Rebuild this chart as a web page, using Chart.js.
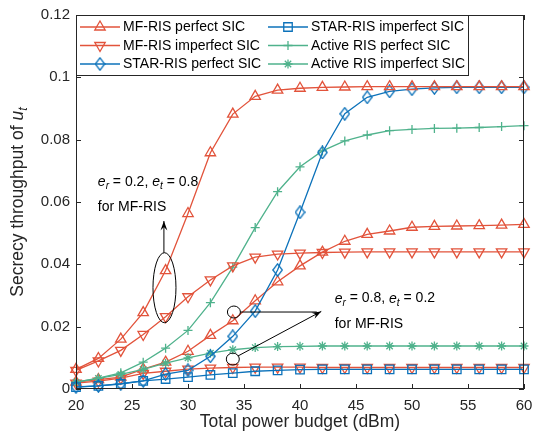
<!DOCTYPE html>
<html>
<head>
<meta charset="utf-8">
<script src="https://cdn.jsdelivr.net/npm/chart.js@4"></script>
<style>
  html, body { margin: 0; padding: 0; background: #fff; }
</style>
</head>
<body>
<canvas id="chart" width="533" height="436"></canvas>
<script>
// ---- data ----
const powerBudget = [20, 22, 24, 26, 28, 30, 32, 34, 36, 38, 40, 42, 44, 46, 48, 50, 52, 54, 56, 58, 60];

// MF-RIS, e_r = 0.2, e_t = 0.8
const mfPerfectHigh   = [0.0063, 0.0098, 0.0160, 0.0245, 0.0380, 0.0563, 0.0758, 0.0882, 0.0939, 0.0959, 0.0965, 0.0968, 0.0969, 0.0970, 0.0970, 0.0970, 0.0970, 0.0970, 0.0970, 0.0970, 0.0970];
const mfImperfectHigh = [0.0060, 0.0090, 0.0124, 0.0175, 0.0232, 0.0296, 0.0350, 0.0395, 0.0423, 0.0433, 0.0436, 0.0438, 0.0439, 0.0440, 0.0440, 0.0440, 0.0440, 0.0440, 0.0440, 0.0440, 0.0440];
// MF-RIS, e_r = 0.8, e_t = 0.2
const mfPerfectLow    = [0.0022, 0.0030, 0.0038, 0.0064, 0.0086, 0.0121, 0.0172, 0.0219, 0.0283, 0.0344, 0.0395, 0.0439, 0.0474, 0.0496, 0.0507, 0.0519, 0.0522, 0.0523, 0.0524, 0.0526, 0.0528];
const mfImperfectLow  = [0.0019, 0.0025, 0.0035, 0.0050, 0.0057, 0.0064, 0.0067, 0.0069, 0.0070, 0.0070, 0.0070, 0.0069, 0.0069, 0.0069, 0.0069, 0.0069, 0.0069, 0.0069, 0.0069, 0.0069, 0.0069];
const starPerfect     = [0.0007, 0.0010, 0.0017, 0.0026, 0.0048, 0.0060, 0.0105, 0.0169, 0.0250, 0.0382, 0.0567, 0.0759, 0.0883, 0.0936, 0.0955, 0.0962, 0.0966, 0.0968, 0.0968, 0.0968, 0.0968];
const starImperfect   = [0.0006, 0.0010, 0.0016, 0.0026, 0.0032, 0.0038, 0.0045, 0.0051, 0.0057, 0.0060, 0.0062, 0.0063, 0.0063, 0.0063, 0.0063, 0.0063, 0.0063, 0.0063, 0.0063, 0.0063, 0.0063];
const activePerfect   = [0.0022, 0.0035, 0.0052, 0.0086, 0.0131, 0.0188, 0.0277, 0.0391, 0.0518, 0.0633, 0.0713, 0.0764, 0.0796, 0.0815, 0.0829, 0.0833, 0.0836, 0.0837, 0.0839, 0.0842, 0.0845];
const activeImperfect = [0.0022, 0.0034, 0.0047, 0.0063, 0.0083, 0.0100, 0.0115, 0.0126, 0.0133, 0.0136, 0.0137, 0.0138, 0.0138, 0.0138, 0.0138, 0.0138, 0.0138, 0.0138, 0.0138, 0.0138, 0.0138];

const xTicks = [20, 25, 30, 35, 40, 45, 50, 55, 60];
const yTicks = [0, 0.02, 0.04, 0.06, 0.08, 0.1, 0.12];

const RED = '#E2533B';
const BLUE = '#0C72BA';
const GREEN = '#4FB28C';
const INK = '#262626';
const FONT = "Arial, 'Liberation Sans', sans-serif";

// MATLAB-like diamond (a bit taller than wide)
function diamondMarker(color) {
    const c = document.createElement('canvas');
    c.width = 11; c.height = 14;
    const g = c.getContext('2d');
    g.strokeStyle = color;
    g.lineWidth = 1.3;
    g.beginPath();
    g.moveTo(5.5, 0.8); g.lineTo(10.2, 7); g.lineTo(5.5, 13.2); g.lineTo(0.8, 7);
    g.closePath();
    g.stroke();
    return c;
}

function series(label, values, color, style, rotation, radius, inLegend) {
    return {
        label: label,
        data: values.map((v, i) => ({ x: powerBudget[i], y: v })),
        borderColor: color,
        backgroundColor: color,
        borderWidth: 1.3,
        pointStyle: style,
        pointRotation: rotation,
        pointRadius: radius,
        pointBorderWidth: 1.3,
        pointBorderColor: color,
        pointBackgroundColor: 'rgba(0,0,0,0)',
        tension: 0,
        clip: false,
        inLegend: inLegend
    };
}

const datasets = [
    series('MF-RIS perfect SIC', mfPerfectHigh, RED, 'triangle', 0, 6, true),
    series('MF-RIS imperfect SIC', mfImperfectHigh, RED, 'triangle', 180, 6, true),
    series('STAR-RIS perfect SIC', starPerfect, BLUE, diamondMarker(BLUE), 0, 6, true),
    series('STAR-RIS imperfect SIC', starImperfect, BLUE, 'rect', 0, 6, true),
    series('Active RIS perfect SIC', activePerfect, GREEN, 'cross', 0, 4.5, true),
    series('Active RIS imperfect SIC', activeImperfect, GREEN, 'star', 0, 4.5, true),
    series('MF-RIS perfect SIC (0.8/0.2)', mfPerfectLow, RED, 'triangle', 0, 6, false),
    series('MF-RIS imperfect SIC (0.8/0.2)', mfImperfectLow, RED, 'triangle', 180, 6, false)
];

// text with italic/subscript pieces
function drawRich(ctx, parts, x, y, size) {
    let cx = x;
    parts.forEach(([txt, kind]) => {
        const fs = kind === 'sub' ? size * 0.72 : size;
        ctx.font = (kind === 'n' ? '' : 'italic ') + fs + 'px ' + FONT;
        ctx.fillText(txt, cx, kind === 'sub' ? y + size * 0.32 : y);
        cx += ctx.measureText(txt).width;
    });
}
function richWidth(ctx, parts, size) {
    let w = 0;
    parts.forEach(([txt, kind]) => {
        const fs = kind === 'sub' ? size * 0.72 : size;
        ctx.font = (kind === 'n' ? '' : 'italic ') + fs + 'px ' + FONT;
        w += ctx.measureText(txt).width;
    });
    return w;
}

function arrow(ctx, x1, y1, x2, y2) {
    const ang = Math.atan2(y2 - y1, x2 - x1);
    ctx.beginPath();
    ctx.moveTo(x1, y1);
    ctx.lineTo(x2, y2);
    ctx.stroke();
    ctx.beginPath();
    ctx.moveTo(x2, y2);
    ctx.lineTo(x2 - 10 * Math.cos(ang - 0.35), y2 - 10 * Math.sin(ang - 0.35));
    ctx.lineTo(x2 - 6 * Math.cos(ang), y2 - 6 * Math.sin(ang));
    ctx.lineTo(x2 - 10 * Math.cos(ang + 0.35), y2 - 10 * Math.sin(ang + 0.35));
    ctx.closePath();
    ctx.fill();
}

const decorPlugin = {
    id: 'decor',
    afterDatasetsDraw(chart) {
        const ctx = chart.ctx;
        const a = chart.chartArea;
        const xs = chart.scales.x, ys = chart.scales.y;
        ctx.save();

        // axes box and inward ticks
        ctx.strokeStyle = INK;
        ctx.lineWidth = 1;
        ctx.strokeRect(a.left + 0.5, a.top + 0.5, a.right - a.left - 1, a.bottom - a.top - 1);
        ctx.beginPath();
        xTicks.forEach(t => {
            const px = Math.round(xs.getPixelForValue(t)) + 0.5;
            ctx.moveTo(px, a.bottom); ctx.lineTo(px, a.bottom - 5);
            ctx.moveTo(px, a.top); ctx.lineTo(px, a.top + 5);
        });
        yTicks.forEach(t => {
            const py = Math.round(ys.getPixelForValue(t)) + 0.5;
            ctx.moveTo(a.left, py); ctx.lineTo(a.left + 5, py);
            ctx.moveTo(a.right, py); ctx.lineTo(a.right - 5, py);
        });
        ctx.stroke();

        // annotations
        ctx.strokeStyle = '#000';
        ctx.fillStyle = '#000';
        ctx.lineWidth = 1;
        const X = v => xs.getPixelForValue(v), Y = v => ys.getPixelForValue(v);

        ctx.beginPath();
        ctx.ellipse(X(27.9), Y(0.0325), 11.5, 35, 0, 0, Math.PI * 2);
        ctx.stroke();
        arrow(ctx, X(27.85), Y(0.0437), X(27.85), Y(0.0539));

        ctx.beginPath();
        ctx.ellipse(X(34.1), Y(0.0247), 6.5, 6, 0, 0, Math.PI * 2);
        ctx.stroke();
        ctx.beginPath();
        ctx.ellipse(X(34.0), Y(0.0096), 6.5, 6, 0, 0, Math.PI * 2);
        ctx.stroke();
        ctx.beginPath();
        ctx.moveTo(X(34.1) + 6.5, Y(0.0247));
        ctx.lineTo(X(41.5), Y(0.0247));
        ctx.stroke();
        arrow(ctx, X(34.0) + 5, Y(0.0096) - 3, X(41.9), Y(0.0249));

        ctx.textBaseline = 'middle';
        ctx.textAlign = 'left';
        const lbl1 = [['e', 'i'], ['r', 'sub'], [' = 0.2, ', 'n'], ['e', 'i'], ['t', 'sub'], [' = 0.8', 'n']];
        const lbl2 = [['e', 'i'], ['r', 'sub'], [' = 0.8, ', 'n'], ['e', 'i'], ['t', 'sub'], [' = 0.2', 'n']];
        drawRich(ctx, lbl1, X(21.95), Y(0.0664), 14);
        drawRich(ctx, [['for MF-RIS', 'n']], X(21.95), Y(0.0584), 14);
        drawRich(ctx, lbl2, X(43.1), Y(0.0290), 14);
        drawRich(ctx, [['for MF-RIS', 'n']], X(43.1), Y(0.0207), 14);

        // legend box, two columns
        const lx = a.left, ly = a.top, lw = 392, lh = 60;
        ctx.fillStyle = '#fff';
        ctx.fillRect(lx, ly, lw, lh);
        ctx.strokeStyle = INK;
        ctx.strokeRect(lx + 0.5, ly + 0.5, lw, lh);
        const shown = chart.data.datasets.filter(d => d.inLegend);
        shown.forEach((d, i) => {
            const col = Math.floor(i / 3), row = i % 3;
            const sx = lx + 4 + col * 188;
            const sy = ly + 12 + row * 18.5;
            ctx.strokeStyle = d.borderColor;
            ctx.fillStyle = 'rgba(0,0,0,0)';
            ctx.lineWidth = 1.3;
            ctx.beginPath();
            ctx.moveTo(sx, sy); ctx.lineTo(sx + 40, sy);
            ctx.stroke();
            Chart.helpers.drawPoint(ctx, {
                pointStyle: d.pointStyle, rotation: d.pointRotation,
                radius: d.pointRadius, borderWidth: 1.3
            }, sx + 20, sy);
            ctx.fillStyle = '#000';
            ctx.font = '14px ' + FONT;
            ctx.fillText(d.label, sx + 43, sy + 0.5);
        });

        // y axis title with italic u_t
        const ttl = [['Secrecy throughput of ', 'n'], ['u', 'i'], ['t', 'sub']];
        ctx.fillStyle = INK;
        const tw = richWidth(ctx, ttl, 17.5);
        ctx.translate(18, (a.top + a.bottom) / 2);
        ctx.rotate(-Math.PI / 2);
        drawRich(ctx, ttl, -tw / 2, 0, 17.5);

        ctx.restore();
    }
};

new Chart(document.getElementById('chart').getContext('2d'), {
    type: 'line',
    data: { datasets: datasets },
    options: {
        responsive: false,
        animation: false,
        layout: { autoPadding: false, padding: { top: 13, right: 9, left: 0, bottom: 0 } },
        plugins: {
            legend: { display: false },
            tooltip: { enabled: false }
        },
        scales: {
            x: {
                type: 'linear',
                min: 20,
                max: 60,
                afterFit: s => { s.height = 47; s.paddingLeft = 0; s.paddingRight = 0; },
                afterBuildTicks: s => { s.ticks = xTicks.map(v => ({ value: v })); },
                grid: { display: false, drawTicks: false },
                border: { display: false },
                ticks: { color: INK, padding: 8, font: { family: FONT, size: 15 } },
                title: {
                    display: true,
                    text: 'Total power budget (dBm)',
                    color: INK,
                    font: { family: FONT, size: 17.5 },
                    padding: { top: 0, bottom: 3 }
                }
            },
            y: {
                min: 0,
                max: 0.12,
                afterFit: s => { s.width = 76; },
                afterBuildTicks: s => { s.ticks = yTicks.map(v => ({ value: v })); },
                grid: { display: false, drawTicks: false },
                border: { display: false },
                ticks: {
                    color: INK,
                    padding: 6,
                    font: { family: FONT, size: 15 },
                    callback: v => String(+v.toFixed(2))
                }
            }
        }
    },
    plugins: [decorPlugin]
});
</script>
</body>
</html>
